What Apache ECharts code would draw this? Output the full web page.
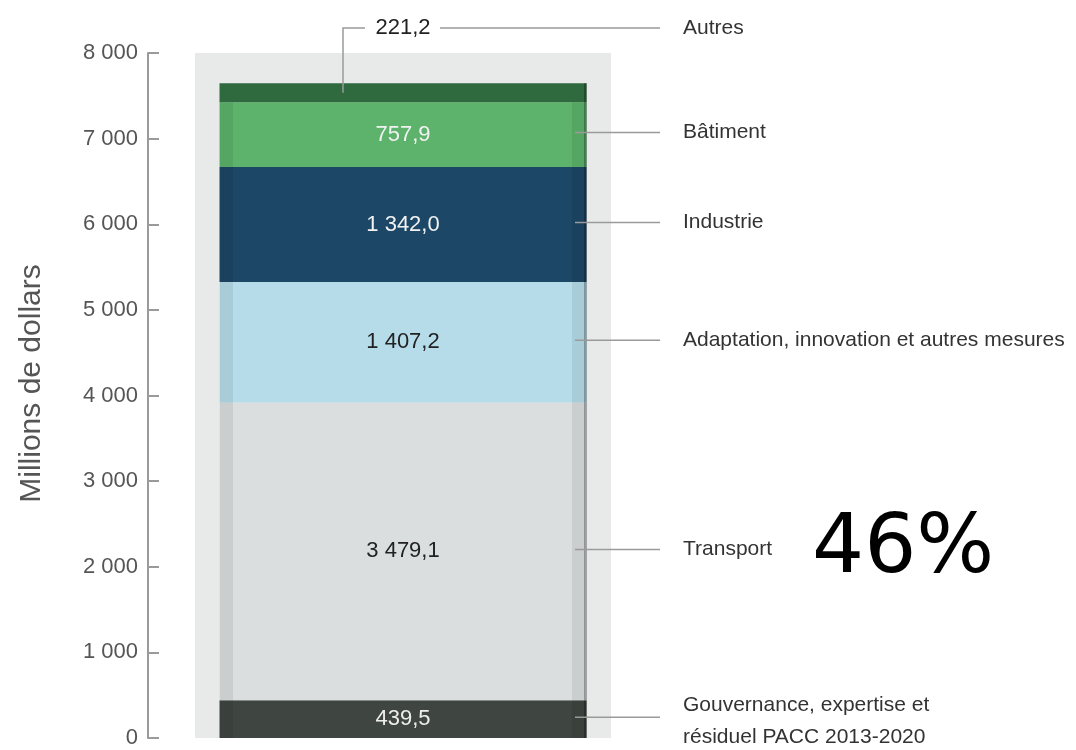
<!DOCTYPE html>
<html>
<head>
<meta charset="utf-8">
<script src="https://cdn.jsdelivr.net/npm/echarts@6/dist/echarts.min.js"></script>
<style>
html,body{margin:0;padding:0;background:#fff;}
#chart{width:1076px;height:750px;}
</style>
</head>
<body>
<div id="chart"></div>
<script>
// ---- data ----
const segmentNames = ['Gouvernance, expertise et\nrésiduel PACC 2013-2020', 'Transport', 'Adaptation, innovation et autres mesures', 'Industrie', 'Bâtiment', 'Autres'];
const segmentValues = [439.5, 3479.1, 1407.2, 1342.0, 757.9, 221.2];
const category = ['Total'];
const yMin = 0, yMax = 8000, yStep = 1000;
const highlightText = '46%';

// ---- styles ----
const segColors = ['#3f4541', '#dadedf', '#b6dcea', '#1c4767', '#5db36b', '#2e6a3e'];
const valueColors = ['#eeeeee', '#222222', '#222222', '#f2f2f2', '#f2f2f2', '#222222'];
const FONT = '"Liberation Sans", Arial, sans-serif';

function frNum(v, dec) {
  const s = v.toFixed(dec).split('.');
  const int = s[0].replace(/\B(?=(\d{3})+(?!\d))/g, ' ');
  return dec ? int + ',' + s[1] : int;
}

// cumulative extents
const extents = [];
let acc = 0;
segmentValues.forEach((v, i) => { extents.push([0, acc, acc + v, i]); acc += v; });

const barSeries = segmentValues.map((v, i) => ({
  type: 'bar', name: segmentNames[i], stack: 'total', xAxisIndex: 0, yAxisIndex: 0,
  barWidth: 367, z: 3,
  data: [v],
  itemStyle: { color: segColors[i] },
  label: {
    show: i !== segmentValues.length - 1, position: 'inside',
    formatter: () => frNum(v, 1),
    color: valueColors[i], fontSize: 22, fontFamily: FONT
  },
  emphasis: { disabled: true }
}));

const leaderSeries = {
  type: 'custom', xAxisIndex: 0, yAxisIndex: 0, z: 5, silent: true,
  data: extents,
  renderItem: function (params, api) {
    const i = api.value(3);
    const p0 = api.coord([0, api.value(1)]);
    const p1 = api.coord([0, api.value(2)]);
    const cx = p0[0];
    const top = p1[1], bot = p0[1];
    const yc = (top + bot) / 2 - 2;
    const lineStyle = { stroke: '#9a9a9a', lineWidth: 1.5 };
    const txt = (t, x, y, align, size, color, lh) => ({
      type: 'text',
      style: { text: t, x: x, y: y, align: align || 'left', verticalAlign: 'middle',
        fontSize: size || 21, fontFamily: FONT, fill: color || '#333', lineHeight: lh || 30 }
    });
    const children = [];
    const last = i === segmentValues.length - 1;
    if (!last) {
      children.push({ type: 'rect', shape: { x: cx - 183, y: top, width: 13, height: bot - top },
        style: { fill: 'rgba(0,0,0,0.07)' } });
      children.push({ type: 'rect', shape: { x: cx + 169, y: top, width: 13, height: bot - top },
        style: { fill: 'rgba(0,0,0,0.07)' } });
    }
    children.push({ type: 'rect', shape: { x: cx + 181, y: top, width: 3, height: bot - top },
      style: { fill: 'rgba(0,0,0,0.28)' } });
    if (last) {
      const ly = api.coord([0, yMax])[1] - 25;
      const ym = (top + bot) / 2;
      children.push({ type: 'polyline', shape: { points: [[cx - 60, ym], [cx - 60, ly], [cx - 38, ly]] }, style: Object.assign({ fill: null }, lineStyle) });
      children.push(txt(frNum(segmentValues[i], 1), cx, ly, 'center', 22, '#222'));
      children.push({ type: 'line', shape: { x1: cx + 37, y1: ly, x2: cx + 257, y2: ly }, style: lineStyle });
      children.push(txt(segmentNames[i], cx + 280, ly));
    } else {
      children.push({ type: 'line', shape: { x1: cx + 172, y1: yc, x2: cx + 257, y2: yc }, style: lineStyle });
      children.push(txt(segmentNames[i], cx + 280, i === 0 ? yc + 4 : yc, 'left', 21, '#333', 32));
    }
    return { type: 'group', children: children };
  }
};

const chart = echarts.init(document.getElementById('chart'));
chart.setOption({
  animation: false,
  grid: { left: 148, right: 418, top: 53, bottom: 12 },
  xAxis: [
    { type: 'category', data: category, show: false },
    { type: 'category', data: category, show: false }
  ],
  yAxis: {
    type: 'value', min: yMin, max: yMax, interval: yStep,
    name: 'Millions de dollars', nameLocation: 'middle', nameGap: 101, nameRotate: 90,
    nameTextStyle: { fontSize: 30, color: '#555', fontFamily: FONT, padding: [0, 0, 0, 24] },
    axisLine: { show: true, lineStyle: { color: '#9a9a9a', width: 2 } },
    axisTick: { show: true, inside: true, length: 11, lineStyle: { color: '#9a9a9a', width: 2 } },
    axisLabel: { margin: 10, fontSize: 22, color: '#555', fontFamily: FONT, formatter: v => frNum(v, 0) },
    splitLine: { show: false }
  },
  series: [
    { type: 'bar', xAxisIndex: 1, yAxisIndex: 0, barWidth: 416, z: 1, silent: true,
      data: [yMax], itemStyle: { color: '#e8eaea' } }
  ].concat(barSeries, [leaderSeries]),
  graphic: [
    { type: 'text', left: 812, top: 510, silent: true,
      style: { text: highlightText, fontSize: 82, fontFamily: '"DejaVu Sans", sans-serif', fill: '#000' } }
  ]
});
</script>
</body>
</html>
